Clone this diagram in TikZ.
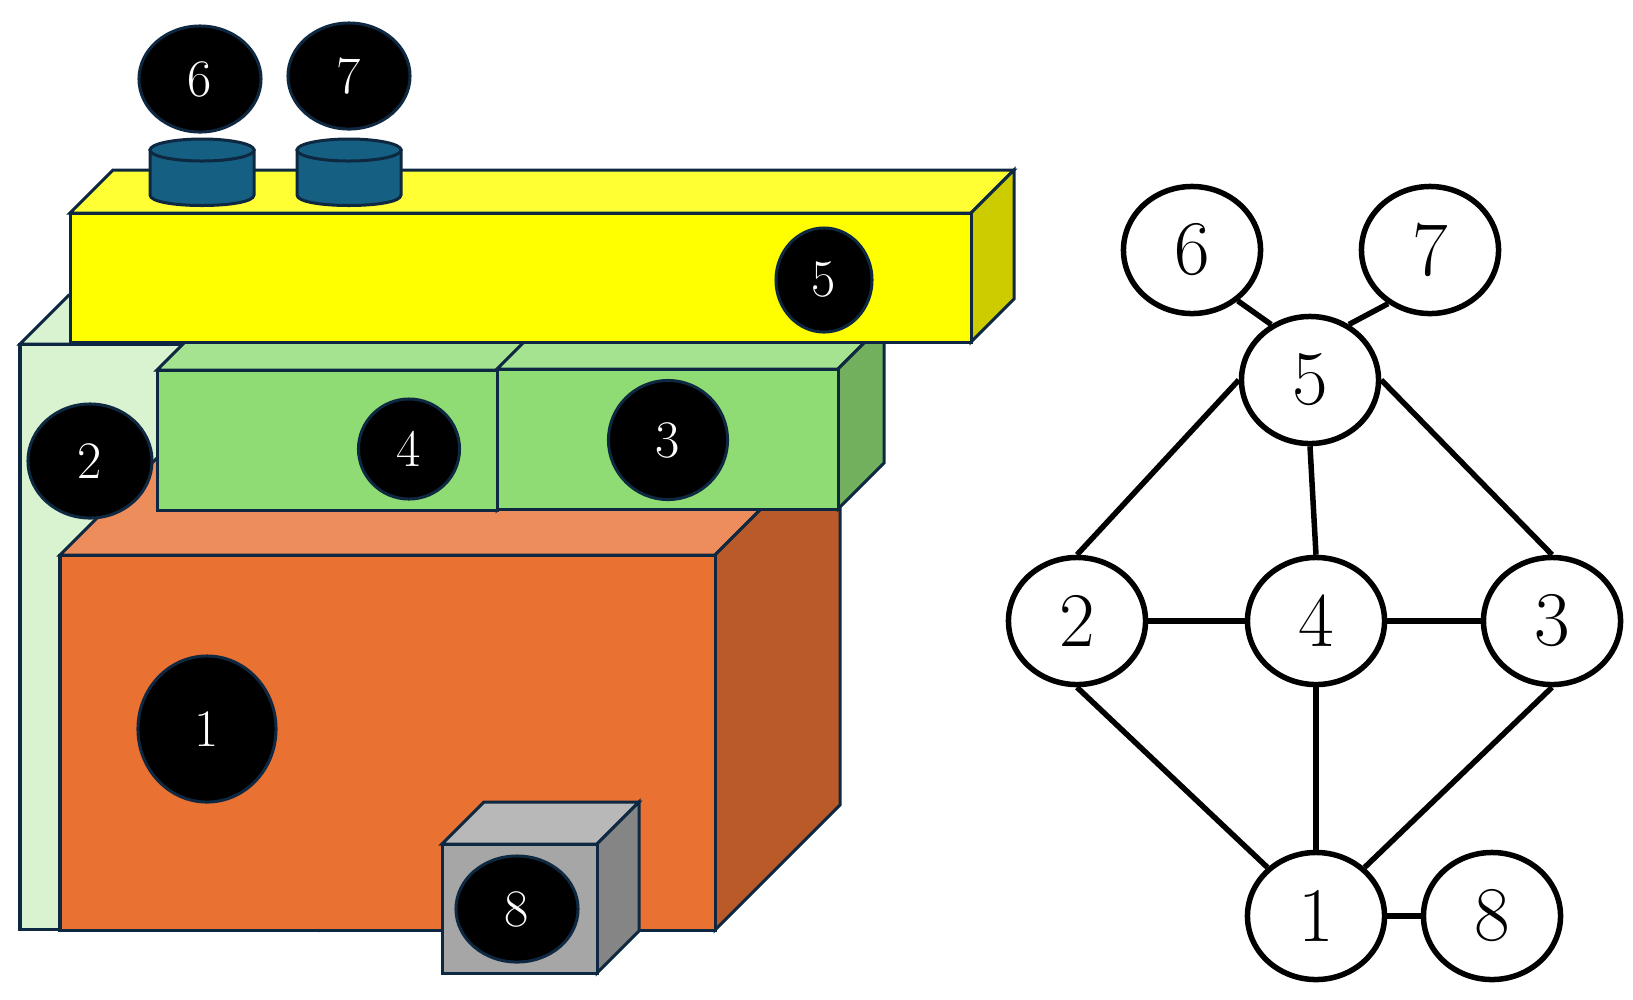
\documentclass[tikz,border=0pt]{standalone}
\usetikzlibrary{shapes.geometric}

\definecolor{edgeblue}{HTML}{0E2841}
\definecolor{paletop}{HTML}{D9F2D0}
\definecolor{palefront}{HTML}{D9F2D0}
\definecolor{paleside}{HTML}{AEC2A6}
\definecolor{orangefront}{HTML}{E97132}
\definecolor{orangetop}{HTML}{ED8D5B}
\definecolor{orangeside}{HTML}{BA5A28}
\definecolor{greenfront}{HTML}{8FDC75}
\definecolor{greentop}{HTML}{A5E391}
\definecolor{greenside}{HTML}{72B05E}
\definecolor{yellowfront}{HTML}{FFFF00}
\definecolor{yellowtop}{HTML}{FFFF33}
\definecolor{yellowside}{HTML}{CCCC00}
\definecolor{grayfront}{HTML}{A6A6A6}
\definecolor{graytop}{HTML}{B8B8B8}
\definecolor{grayside}{HTML}{858585}
\definecolor{puckblue}{HTML}{156082}

\tikzset{
    face/.style={draw=edgeblue,line width=.03cm,line join=miter},
    blackdot/.style={ellipse,draw=edgeblue,line width=.03cm,fill=black,text=white,
        inner sep=0pt,font=\fontsize{15}{15}\selectfont},
    graphdot/.style={ellipse,draw=black,line width=.055cm,fill=white,inner sep=0pt,
        minimum width=1.37cm,minimum height=1.27cm,font=\fontsize{22}{22}\selectfont},
}

% x, y, width, height, depth, colour name
\newcommand{\cuboid}[6]{
    \path[face,fill=#6top] (#1,#2) -- ++(#5,-#5) -- ++(#3,0) -- ++(-#5,#5) -- cycle;
    \path[face,fill=#6side] (#1+#3,#2) -- ++(#5,-#5) -- ++(0,#4) -- ++(-#5,#5) -- cycle;
    \path[face,fill=#6front] (#1,#2) rectangle ++(#3,#4);
}
% left edge of a cylinder
\newcommand{\puck}[1]{
    \path[face,fill=puckblue] (#1,150) -- (#1,195)
        .. controls (#1,209) and (#1+104,209) .. (#1+104,195) -- (#1+104,150) -- cycle;
    \path[face,fill=puckblue] (#1+52,150) ellipse [x radius=.52cm,y radius=.11cm];
}

\begin{document}
\begin{tikzpicture}[x=.01cm,y=-.01cm]
    \useasboundingbox (0,0) rectangle (1633,999);

    % the stacked blocks
    \cuboid{20}{344}{300}{585}{49}{pale}
    \cuboid{60}{555}{655}{375}{125}{orange}
    \cuboid{157}{370}{340}{140}{46}{green}
    \cuboid{497}{369}{341}{140}{46}{green}
    \cuboid{70}{213}{901}{129}{43}{yellow}
    \puck{150}
    \puck{297}
    \cuboid{442}{844}{155}{129}{42}{gray}

    % labels on the blocks
    \node[blackdot,minimum width=1.38cm,minimum height=1.46cm]
        (block1) at (207,729) {1};
    \node[blackdot,minimum width=1.24cm,minimum height=1.14cm]
        (block2) at (90,461) {2};
    \node[blackdot,minimum width=1.19cm,minimum height=1.19cm]
        (block3) at (668,440) {3};
    \node[blackdot,minimum width=1.01cm,minimum height=1cm]
        (block4) at (409,449) {4};
    \node[blackdot,minimum width=.96cm,minimum height=1.04cm]
        (block5) at (824,280) {5};
    \node[blackdot,minimum width=1.22cm,minimum height=1.06cm]
        (block6) at (200,79) {6};
    \node[blackdot,minimum width=1.22cm,minimum height=1.06cm]
        (block7) at (349,76) {7};
    \node[blackdot,minimum width=1.22cm,minimum height=1.06cm]
        (block8) at (517,909) {8};

    % the graph
    \node[graphdot] (vert1) at (1316,916) {1};
    \node[graphdot] (vert2) at (1077,621) {2};
    \node[graphdot] (vert3) at (1552,621) {3};
    \node[graphdot] (vert4) at (1316,621) {4};
    \node[graphdot] (vert5) at (1310,380) {5};
    \node[graphdot] (vert6) at (1192,250) {6};
    \node[graphdot] (vert7) at (1430,250) {7};
    \node[graphdot] (vert8) at (1492,916) {8};

    \begin{scope}[line width=.055cm]
        \path (vert6.-48) edge (vert5.125);
        \path (vert7.232) edge (vert5.55);
        \path (vert5.west) edge (vert2.north);
        \path (vert5.east) edge (vert3.north);
        \path (vert5.south) edge (vert4.north);
        \path (vert2.east) edge (vert4.west);
        \path (vert4.east) edge (vert3.west);
        \path (vert4.south) edge (vert1.north);
        \path (vert2.south) edge (vert1.135);
        \path (vert3.south) edge (vert1.45);
        \path (vert1.east) edge (vert8.west);
    \end{scope}
\end{tikzpicture}
\end{document}
